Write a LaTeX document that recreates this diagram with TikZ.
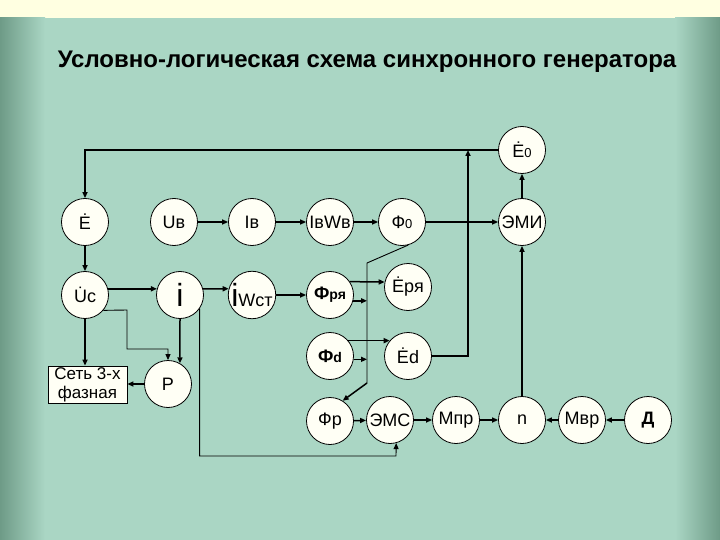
\documentclass[tikz,border=0pt]{standalone}
\usepackage{fontspec}
\setmainfont{Liberation Sans}
\usetikzlibrary{arrows.meta,calc}
\definecolor{mint}{RGB}{170,214,196}
\definecolor{mintdark}{RGB}{110,155,135}
\definecolor{topyel}{RGB}{255,255,225}
\definecolor{nodefill}{RGB}{255,255,245}
\tikzset{
  nd/.style={circle, draw=black, fill=nodefill, line width=0.8pt, minimum size=47pt, inner sep=0pt, font=\fontsize{18}{18}\selectfont},
  ar/.style={-{Triangle[length=6pt,width=5pt]}, line width=1.5pt},
  thinar/.style={-{Triangle[length=6pt,width=5pt]}, line width=0.9pt},
  thinln/.style={line width=0.9pt},
}
\newcommand{\sm}[1]{{\fontsize{13}{13}\selectfont #1}}
\newcommand{\smb}[1]{{\fontsize{14}{14}\selectfont\bfseries #1}}
\begin{document}
\begin{tikzpicture}[x=1pt,y=-1pt]
\useasboundingbox (0,0) rectangle (720,540);
\fill[topyel] (0,0) rectangle (720,18);
\fill[mint] (0,18) rectangle (720,540);
\shade[left color=mintdark, right color=mint] (0,18) rectangle (45,540);
\shade[left color=mint, right color=mintdark] (675,18) rectangle (720,540);
\node[font=\fontsize{24}{24}\selectfont\bfseries] (title) at (367,62) {Условно-логическая схема синхронного генератора};

% nodes
\node[nd] (E0) at (522,150) {Ė\sm{0}};
\node[nd] (E) at (85,222) {Ė};
\node[nd] (Uv) at (174,222) {Uв};
\node[nd] (Iv) at (252,222) {Iв};
\node[nd] (IvWv) at (330,222) {IвWв};
\node[nd] (F0) at (402,222) {Ф\sm{0}};
\node[nd] (EMI) at (522,222) {ЭМИ};
\node[nd] (Uc) at (85,295) {U̇с};
\node[nd] (ii) at (180,295) {\fontsize{32}{32}\selectfont i};
\node[nd] (iW) at (252,295) {{\fontsize{32}{32}\selectfont i}Wст};
\node[nd] (Frya) at (330,295) {\textbf{Ф}\smb{ря}};
\node[nd] (Erya) at (408,287) {Ėря};
\node[nd] (Fd) at (330,356) {\textbf{Ф}\smb{d}};
\node[nd] (Ed) at (408,356) {Ėd};
\node[nd] (Fr) at (330,421) {Фр};
\node[nd] (EMS) at (390,420) {ЭМС};
\node[nd] (Mpr) at (456,420) {Мпр};
\node[nd] (n) at (522,420) {n};
\node[nd] (Mvr) at (582,420) {Мвр};
\node[nd] (D) at (648,420) {\textbf{Д}};
\node[nd] (P) at (168,384) {Р};
\node[draw=black, fill=nodefill, line width=0.8pt, minimum width=79pt, minimum height=37pt, inner sep=0pt, align=center, font=\fontsize{17}{19}\selectfont] (Set) at (87.5,384.5) {Сеть 3-х\\фазная};

\coordinate (j1) at (468,150);
\coordinate (busTop) at (367,263);
\coordinate (busBot) at (367,383);
\coordinate (loopB) at (396,456);

% connectors
\draw[ar] (E0.west) -| (E.north);
\draw[ar] (Ed.east) -| (j1);
\draw[ar] (E) -- (Uc);
\draw[ar] (Uv) -- (Iv);
\draw[ar] (Iv) -- (IvWv);
\draw[ar] (IvWv) -- (F0);
\draw[ar] (F0) -- (EMI);
\draw[ar] (EMI) -- (E0);
\draw[ar] (n) -- (EMI);
\draw[ar] (Uc.15) -- (ii.165);
\draw[ar] (ii.15) -- (iW.165);
\draw[ar] (iW) -- (Frya);
\draw[ar] (Frya.34) -- (Erya.168);
\draw[ar] (Frya.-14) -- (Frya.-14 -| busTop);
\draw[ar] (Fd.40) -- (Ed.140);
\draw[ar] (Fd.-8) -- (Fd.-8 -| busTop);
\draw[thinln] (F0.-75) -- (busTop) -- (busBot);
\draw[ar] (busBot) -- (Fr.58);
\draw[ar] (Fr) -- (EMS);
\draw[ar] (EMS) -- (Mpr);
\draw[ar] (Mpr) -- (n);
\draw[ar] (Mvr) -- (n);
\draw[ar] (D) -- (Mvr);
\draw[ar] (Uc.south) -- (Uc.south |- Set.north);
\draw[thinar] (Uc.-40) -- (127,310) -- (127,349) -| (P.north);
\draw[ar] (ii.south) -- (P.60);
\draw[ar] (P.west) -- (P.west -| Set.east);
\draw[thinar] (ii.-35) |- (loopB) -- (EMS.-75);
\end{tikzpicture}
\end{document}
